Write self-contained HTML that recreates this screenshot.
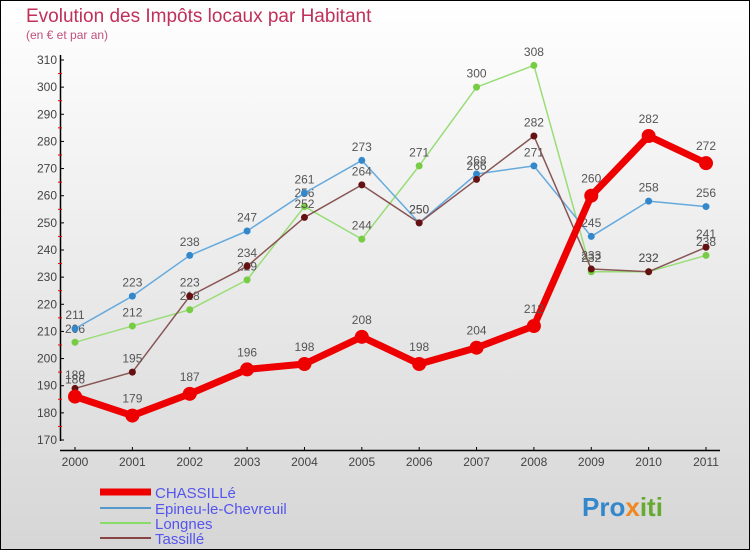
<!DOCTYPE html>
<html><head><meta charset="utf-8"><style>
body{margin:0;}
#c{width:750px;height:550px;position:relative;font-family:"Liberation Sans",sans-serif;}
</style></head><body>
<div id="c">
<svg id="s" width="750" height="550" xmlns="http://www.w3.org/2000/svg">
<defs><linearGradient id="bg" x1="0" y1="0" x2="0" y2="1"><stop offset="0" stop-color="#ffffff"/><stop offset="1" stop-color="#d6d6d6"/></linearGradient></defs>
<rect x="0.5" y="0.5" width="749" height="549" fill="url(#bg)" stroke="#000"/>
<text x="26" y="22" font-size="19" fill="#c0305a">Evolution des Impôts locaux par Habitant</text>
<text x="26" y="39" font-size="12" fill="#c0507a">(en € et par an)</text>
<g id="axes"></g><g id="series"></g>
<g>
<line x1="100" y1="492" x2="151" y2="492" stroke="#e00" stroke-width="7"/>
<text x="155" y="498" font-size="15" fill="#5555ee">CHASSILLé</text>
<line x1="100" y1="508" x2="151" y2="508" stroke="#5599cc" stroke-width="2"/>
<text x="155" y="514" font-size="15" fill="#5555ee">Epineu-le-Chevreuil</text>
<line x1="100" y1="523" x2="151" y2="523" stroke="#88dd66" stroke-width="2"/>
<text x="155" y="529" font-size="15" fill="#5555ee">Longnes</text>
<line x1="100" y1="538" x2="151" y2="538" stroke="#884444" stroke-width="2"/>
<text x="155" y="544" font-size="15" fill="#5555ee">Tassillé</text>
</g>
<text x="582" y="516" font-size="26" font-weight="bold" fill="#3388cc">Pro<tspan fill="#ee8822">x</tspan><tspan fill="#66aa33">iti</tspan></text>
</svg>
</div>
<script>
const years=["2000","2001","2002","2003","2004","2005","2006","2007","2008","2009","2010","2011"];
const yTicks=[170,180,190,200,210,220,230,240,250,260,270,280,290,300,310];
const chassille=[186,179,187,196,198,208,198,204,212,260,282,272];
const epineu=[211,223,238,247,261,273,250,268,271,245,258,256];
const longnes=[206,212,218,229,256,244,271,300,308,232,232,238];
const tassille=[189,195,223,234,252,264,250,266,282,233,232,241];
const NS="http://www.w3.org/2000/svg";
const X=i=>75+i*(706-75)/11;
const Y=v=>440-(v-170)*(380/140);
function mk(tag,attrs,parent){const e=document.createElementNS(NS,tag);for(const k in attrs)e.setAttribute(k,attrs[k]);parent.appendChild(e);return e;}
const ax=document.getElementById('axes');
let a=mk('line',{x1:60.5,y1:55,x2:60.5,y2:441,stroke:'#000','stroke-width':1.5},ax);


a=mk('line',{x1:60,y1:450.5,x2:720,y2:450.5,stroke:'#000','stroke-width':1.5},ax);


yTicks.forEach((v,i)=>{
  mk('line',{x1:60,y1:Y(v),x2:64,y2:Y(v),stroke:'#000'},ax);
  if(i<yTicks.length-1) mk('line',{x1:58,y1:Y(v+5),x2:62,y2:Y(v+5),stroke:'#e00'},ax);
  const t=mk('text',{x:57,y:Y(v)+4,'font-size':12,fill:'#444','text-anchor':'end'},ax);
  t.textContent=v;
  
  
});
years.forEach((y,i)=>{
  mk('line',{x1:X(i),y1:447,x2:X(i),y2:451,stroke:'#000'},ax);
  const t=mk('text',{x:X(i),y:466,'font-size':12,fill:'#444','text-anchor':'middle'},ax);
  t.textContent=y;
  
  
});
const sg=document.getElementById('series');
function draw(data,name,color,dot,w,r){
  const g=mk('g',{},sg);
  
  
  const pl=mk('polyline',{points:data.map((v,i)=>X(i)+','+Y(v)).join(' '),fill:'none',stroke:color,'stroke-width':w,'stroke-linejoin':'round'},g);
  
  
  data.forEach((v,i)=>{
    const c=mk('circle',{cx:X(i),cy:Y(v),r:r,fill:dot},g);
    
    
    const t=mk('text',{x:X(i),y:Y(v)-r-6,'font-size':12,fill:'#555','text-anchor':'middle'},g);
    t.textContent=v;
    
    
  });
}
draw(longnes,'longnes','#99dd77','#77cc44',1.5,3.5);
draw(epineu,'epineu','#66aadd','#3388cc',1.5,3.5);
draw(tassille,'tassille','#885555','#661111',1.5,3.5);
draw(chassille,'chassille','#ee0000','#ee0000',7,7);
</script>
</body></html>
